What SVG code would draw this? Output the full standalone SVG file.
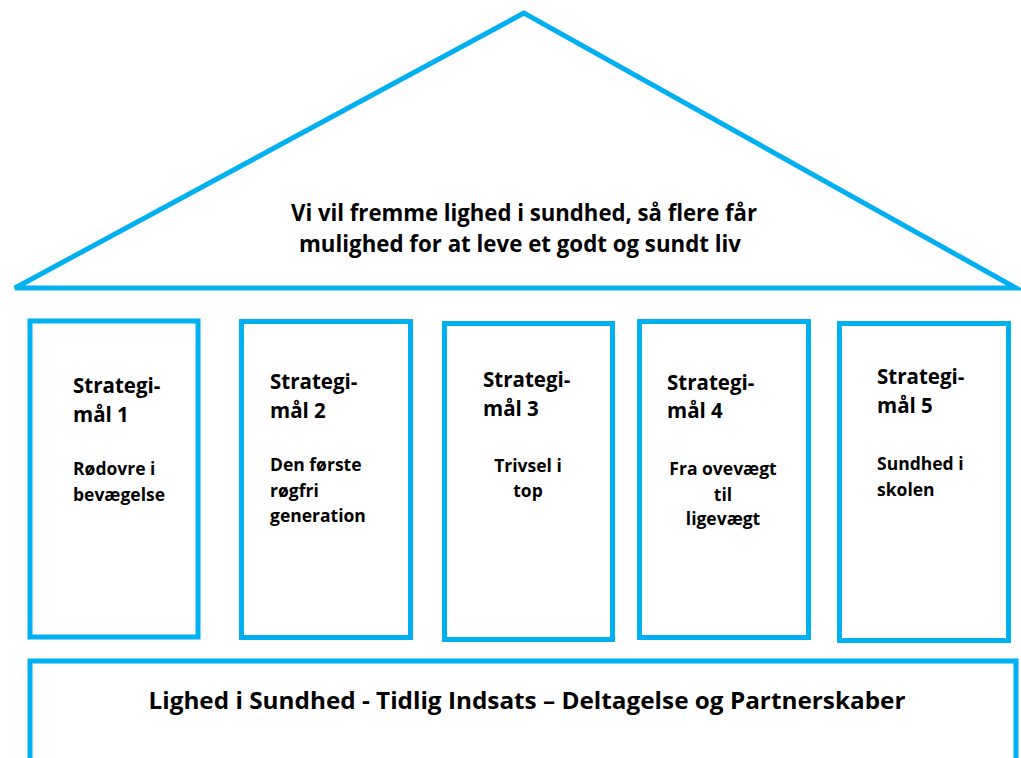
<svg xmlns="http://www.w3.org/2000/svg" width="1021" height="758" viewBox="0 0 1021 758">
  <style>
    .shape { fill: #ffffff; stroke: #00B0F0; stroke-width: 5; }
    text { font-family: "Open Sans", "Liberation Sans", sans-serif; font-weight: 700; fill: #000000; }
    .head { font-size: 24px; }
    .title { font-size: 20.5px; }
    .desc { font-size: 17.5px; }
    .mid { text-anchor: middle; }
  </style>

  <!-- Roof -->
  <g id="roof">
    <polygon class="shape" points="524,13 15,288 1016,288"/>
    <text class="head mid" x="524" y="221" textLength="466" lengthAdjust="spacingAndGlyphs">Vi vil fremme lighed i sundhed, så flere får</text>
    <text class="head mid" x="520" y="252" textLength="442" lengthAdjust="spacingAndGlyphs">mulighed for at leve et godt og sundt liv</text>
  </g>

  <!-- Pillars -->
  <g id="pillar1">
    <rect class="shape" x="30" y="321" width="168" height="316"/>
    <text class="title" x="73" y="393">Strategi-</text>
    <text class="title" x="73" y="422">mål 1</text>
    <text class="desc" x="73" y="475">Rødovre i</text>
    <text class="desc" x="73" y="501">bevægelse</text>
  </g>

  <g id="pillar2">
    <rect class="shape" x="241.5" y="321.5" width="169" height="316"/>
    <text class="title" x="270" y="389">Strategi-</text>
    <text class="title" x="270" y="418">mål 2</text>
    <text class="desc" x="270" y="471">Den første</text>
    <text class="desc" x="270" y="497">røgfri</text>
    <text class="desc" x="270" y="522">generation</text>
  </g>

  <g id="pillar3">
    <rect class="shape" x="444.5" y="323.5" width="168" height="316"/>
    <text class="title" x="483" y="387">Strategi-</text>
    <text class="title" x="483" y="416">mål 3</text>
    <text class="desc mid" x="528" y="472">Trivsel i</text>
    <text class="desc mid" x="528" y="497">top</text>
  </g>

  <g id="pillar4">
    <rect class="shape" x="639.5" y="321.5" width="169" height="316"/>
    <text class="title" x="667" y="390">Strategi-</text>
    <text class="title" x="667" y="418">mål 4</text>
    <text class="desc mid" x="723" y="475">Fra ovevægt</text>
    <text class="desc mid" x="723" y="501">til</text>
    <text class="desc mid" x="723" y="525">ligevægt</text>
  </g>

  <g id="pillar5">
    <rect class="shape" x="839.5" y="323.5" width="169" height="317"/>
    <text class="title" x="877" y="384">Strategi-</text>
    <text class="title" x="877" y="413">mål 5</text>
    <text class="desc" x="877" y="470">Sundhed i</text>
    <text class="desc" x="877" y="496">skolen</text>
  </g>

  <!-- Foundation -->
  <g id="foundation">
    <rect class="shape" x="30" y="661" width="986" height="120"/>
    <text class="head mid" x="527" y="709" textLength="757" lengthAdjust="spacingAndGlyphs">Lighed i Sundhed - Tidlig Indsats – Deltagelse og Partnerskaber</text>
  </g>

  <!-- No connectors in this drawing -->
  <g id="connectors"/>
</svg>
